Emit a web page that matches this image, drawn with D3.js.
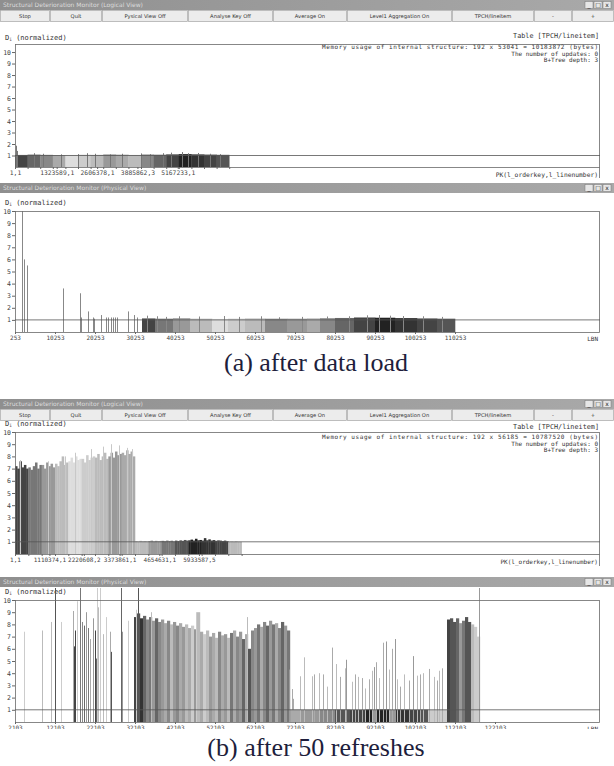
<!DOCTYPE html>
<html>
<head>
<meta charset="utf-8">
<script src="https://cdnjs.cloudflare.com/ajax/libs/d3/7.8.5/d3.min.js"></script>
<style>
  body { margin: 0; background: #fff; }
  svg { display: block; }
  .mono { font-family: "DejaVu Sans Mono", monospace; fill: #333; }
  .ui { font-family: "DejaVu Sans", sans-serif; }
  .axis text { font-family: "DejaVu Sans Mono", monospace; fill: #444; }
  .axis path { display: none; }
  .axis line { stroke: #666; }
</style>
</head>
<body>
<svg id="fig" width="614" height="766"></svg>
<script>
// ---- data ----
var buttons = ["Stop", "Quit", "Pysical View Off", "Analyse Key Off", "Average On",
               "Level1 Aggregation On", "TPCH/lineitem", "-", "+"];
var yTicks = [1, 2, 3, 4, 5, 6, 7, 8, 9, 10];

// (a) logical view after load, keys in millions
var keyTicksA = [0, 1.323589, 2.606378, 3.885862, 5.167233];
var keyLabelsA = ["1,1", "1323589,1", "2606378,1", "3885862,3", "5167233,1"];
var segEdgesA = [0, 0.4, 0.8, 1.2, 1.6, 2.0, 2.4, 2.8, 3.2, 3.6, 4.0, 4.4, 4.8, 5.2, 5.6, 6.0, 6.4, 6.8];
var segShadeA = "468adcb9ab8642345";
var segValA = [1.05, 1.08, 1.06, 1.04, 1.05, 1.07, 1.06, 1.1, 1.08, 1.05, 1.09, 1.07, 1.1, 1.12, 1.1, 1.08, 1.06];
var spikesA = [[0.02, 1.85], [0.06, 1.4], [0.6, 1.2], [0.9, 1.15], [1.45, 1.1], [2.0, 1.12], [2.3, 1.2],
               [2.55, 1.15], [3.0, 1.1], [3.4, 1.15], [4.0, 1.18], [4.3, 1.12], [4.7, 1.2], [4.95, 1.25],
               [5.3, 1.3], [5.5, 1.2], [5.8, 1.22], [6.2, 1.15], [6.5, 1.12]];

// (a) physical view after load, LBN
var lbnTicksB = [253, 10253, 20253, 30253, 40253, 50253, 60253, 70253, 80253, 90253, 100253, 110253];
var segEdgesB = [32003, 35253, 39753, 44003, 49503, 53503, 57753, 62753, 68253, 73253, 76503,
                 80253, 85003, 90253, 95253, 100753, 105753, 110253];
var segShadeB = "479bdcb89a8642345";
var segValB = [1.12, 1.1, 1.14, 1.1, 1.08, 1.1, 1.12, 1.1, 1.1, 1.12, 1.14, 1.16, 1.2, 1.18, 1.15, 1.12, 1.1];
var spikesB = [[2053, 10.3], [2428, 6.0], [3178, 5.5], [12178, 3.6], [16503, 3.2], [16753, 1.2],
               [18503, 1.7], [19678, 1.2], [20078, 1.1], [21678, 1.4], [23003, 1.2], [23578, 1.2],
               [24178, 1.2], [24678, 1.2], [25253, 1.2], [25828, 1.2], [28428, 1.7], [30003, 1.4],
               [30678, 1.2], [33253, 1.35], [35753, 1.3], [38003, 1.25], [41253, 1.3], [46253, 1.28],
               [52503, 1.32], [56253, 1.25], [61753, 1.3], [66253, 1.22], [72003, 1.25], [78253, 1.28],
               [83753, 1.3], [88253, 1.38], [91253, 1.4], [94003, 1.35], [97253, 1.32], [102253, 1.3],
               [107003, 1.25]];

// (b) logical view after 50 refreshes, keys in millions
var keyTicksC = [0, 1.110374, 2.220608, 3.373861, 4.654631, 5.933587];
var keyLabelsC = ["1,1", "1110374,1", "2220608,2", "3373861,1", "4654631,1", "5933587,5"];
var segEdgesC = [0, 0.43, 0.86, 1.29, 1.72, 2.15, 2.58, 3.01, 3.44, 3.87, 4.30, 4.73, 5.16, 5.59, 6.02, 6.45, 6.88, 7.31];
var segShadeC = "479bdcb9ab975234b";
var subValC = [
  [7.2, 7.0, 7.6, 7.1, 7.3, 7.0], [7.1, 6.9, 7.2, 7.5, 7.0, 7.3], [7.3, 7.0, 7.5, 7.2, 7.4, 7.1],
  [7.4, 7.2, 7.6, 8.0, 7.3, 7.5], [7.6, 7.9, 7.5, 8.0, 7.7, 7.8], [7.8, 7.5, 8.1, 7.7, 7.9, 8.0],
  [7.9, 8.2, 7.7, 8.0, 8.3, 7.8], [8.0, 8.3, 7.9, 8.4, 8.1, 8.2], [8.3, 8.1, 8.5, 8.2, 8.4, 8.0],
  [1.05, 1.02, 1.08, 1.04, 1.06, 1.03], [1.06, 1.1, 1.04, 1.08, 1.05, 1.07],
  [1.08, 1.05, 1.1, 1.06, 1.09, 1.04], [1.1, 1.06, 1.12, 1.08, 1.15, 1.1],
  [1.12, 1.18, 1.1, 1.25, 1.12, 1.15], [1.1, 1.3, 1.12, 1.2, 1.1, 1.14],
  [1.08, 1.12, 1.1, 1.06, 1.1, 1.05], [1.0, 1.02, 1.0, 1.03, 1.0, 1.0]];
var spikesC = [[0.15, 7.7], [1.05, 7.6], [1.6, 8.0], [1.95, 8.3], [2.45, 8.6], [2.85, 8.8],
               [3.1, 9.0], [3.35, 8.9], [3.6, 8.7], [3.78, 8.6]];

// (b) physical view after 50 refreshes, LBN
var lbnTicksD = [2103, 12103, 22103, 32103, 42103, 52103, 62103, 72103, 82103, 92103, 102103, 112103, 122103];
var denseStartD = 31853, denseStepD = 750;
var denseValD = [8.6, 8.9, 8.5, 8.7, 8.4, 8.6, 8.3, 8.5, 8.2, 8.4, 8.1, 8.3, 8.0, 8.2, 7.9, 8.1, 7.8,
                 8.0, 7.7, 7.9, 7.6, 9.0, 7.4, 7.2, 7.5, 7.0, 7.3, 6.9, 7.4, 7.1, 7.2, 6.9, 7.3, 7.5,
                 7.0, 7.4, 6.8, 7.2, 6.0, 7.5, 7.7, 8.0, 7.8, 8.2, 7.9, 8.3, 8.0, 8.1, 7.7, 8.2, 7.9, 7.5];
var denseShadeD = "4536879689a8b98a9bac9bacb9ab8a9b7a896a5897a8697a8697";
var lowEdgesD = [70853, 73353, 78353, 82103, 85853, 89603, 91353, 92353, 95853, 97103, 100853, 103353, 105353, 110103];
var lowShadeD = "a98542929345c";
var lowValD = [1.02, 1.0, 1.03, 1.02, 1.0, 1.02, 1.0, 1.03, 1.0, 1.02, 1.0, 1.02, 1.0];
var endStartD = 110103, endStepD = 750;
var endValD = [8.4, 8.5, 8.2, 8.5, 8.1, 8.3, 8.6, 8.2, 8.0, 7.8, 7.0];
var endShadeD = "45569755bcc";
var spikesD = [
  [4353, 7.4, "c"], [8853, 7.5, "b"], [11103, 8.2, "b"], [12103, 12, "5"], [13603, 8.2, "c"],
  [16603, 9.1, "a"], [16728, 6.2, "4"], [17103, 7.5, "4"], [17603, 9.9, "c"], [18353, 12, "7"],
  [18853, 8.2, "8"], [19353, 7.9, "6"], [19853, 9.0, "9"], [20353, 7.7, "7"], [20853, 6.8, "a"],
  [21603, 8.5, "9"], [22103, 7.5, "4"], [22353, 5.2, "6"], [22603, 12, "c"], [22853, 9.4, "b"],
  [23353, 12, "c"], [24103, 7.2, "b"], [24853, 8.6, "c"], [25853, 7.4, "a"], [25978, 5.75, "5"],
  [28603, 12, "6"], [28853, 7.4, "9"], [30353, 8.3, "c"], [32853, 12, "5"],
  [32353, 9.2, "c"], [36103, 9.0, "b"], [47353, 9.0, "c"], [60103, 8.6, "b"],
  [70686, 4.3, "9"], [71270, 2.7, "a"], [71686, 1.9, "a"], [73353, 3.75, "b"], [74353, 5.3, "b"],
  [76353, 3.75, "b"], [76936, 3.9, "a"], [78020, 4.0, "b"], [79103, 3.9, "a"], [80103, 2.9, "b"],
  [81353, 6.1, "a"], [82353, 4.75, "b"], [83436, 3.7, "a"], [84686, 4.4, "b"], [84936, 5.1, "9"],
  [86353, 3.3, "b"], [87186, 3.9, "a"], [87770, 3.7, "b"], [88853, 3.6, "a"], [89686, 2.75, "b"],
  [90520, 3.5, "a"], [91353, 4.2, "b"], [91770, 4.5, "9"], [92436, 4.9, "a"], [93020, 3.6, "b"],
  [94103, 6.5, "a"], [94770, 6.6, "9"], [95520, 4.3, "b"], [96353, 6.0, "a"], [97020, 6.8, "9"],
  [97603, 3.5, "b"], [98436, 2.9, "a"], [99270, 3.9, "b"], [100520, 3.4, "a"], [101520, 5.4, "9"],
  [102603, 3.8, "b"], [103270, 3.9, "a"], [104103, 4.0, "b"], [105520, 4.35, "a"], [106770, 3.7, "b"],
  [107603, 3.4, "a"], [108020, 4.2, "b"], [108853, 4.4, "a"], [118103, 12, "9"]];

// ---- drawing ----
var svg = d3.select("#fig");
var defs = svg.append("defs");
var grad = defs.append("linearGradient").attr("id", "tbar");
grad.append("stop").attr("offset", "0%").attr("stop-color", "#8f8f8f");
grad.append("stop").attr("offset", "100%").attr("stop-color", "#a9a9a9");

function grey(c) { return "#" + c + c + c; }

function drawWindow(top, title, withToolbar) {
  svg.append("rect").attr("x", 0).attr("y", top).attr("width", 614).attr("height", 10)
    .attr("fill", "url(#tbar)");
  svg.append("text").attr("class", "ui").attr("x", 3).attr("y", top + 7.2)
    .attr("font-size", 6).attr("fill", "#dcdcdc").text(title);
  ["_", "\u25a1", "x"].forEach(function (s, i) {
    var bx = 585 + i * 9;
    svg.append("rect").attr("x", bx).attr("y", top + 1.5).attr("width", 8).attr("height", 7)
      .attr("fill", "#e6e6e6").attr("stroke", "#777").attr("stroke-width", 0.5);
    svg.append("text").attr("class", "ui").attr("x", bx + 4).attr("y", top + 7.3)
      .attr("text-anchor", "middle").attr("font-size", 6).attr("fill", "#222").text(s);
  });
  if (!withToolbar) return;
  var edges = [0, 50, 102, 188, 273, 347, 452, 534, 572, 614];
  buttons.forEach(function (b, i) {
    svg.append("rect").attr("x", edges[i] + 0.5).attr("y", top + 10.5)
      .attr("width", edges[i + 1] - edges[i] - 1).attr("height", 11)
      .attr("fill", "#ececec").attr("stroke", "#a5a5a5").attr("stroke-width", 0.7);
    svg.append("text").attr("class", "ui").attr("x", (edges[i] + edges[i + 1]) / 2).attr("y", top + 18)
      .attr("text-anchor", "middle").attr("font-size", 5.2).attr("fill", "#333").text(b);
  });
}

function dLabel(yb) {
  var t = svg.append("text").attr("class", "mono").attr("x", 5).attr("y", yb).attr("font-size", 7);
  t.append("tspan").text("D");
  t.append("tspan").attr("font-size", 4.5).attr("dy", 1.2).text("i");
  t.append("tspan").attr("dy", -1.2).text(" (normalized)");
}

function drawPlot(p) {
  var x = d3.scaleLinear().domain(p.xDomain).range([15, 600]);
  var y = d3.scaleLinear().domain([0, p.yMax]).range([p.axisY, p.frameTop]);
  var clipId = "clip" + p.id;
  defs.append("clipPath").attr("id", clipId).append("rect")
    .attr("x", 15).attr("y", p.clipTop).attr("width", 585).attr("height", p.axisY - p.clipTop);
  var bars = svg.append("g").attr("clip-path", "url(#" + clipId + ")");
  return { x: x, y: y, bars: bars, p: p };
}

function finishPlot(P) {
  var p = P.p, x = P.x, y = P.y;
  // frame
  svg.append("rect").attr("x", 15.5).attr("y", p.frameTop + 0.5).attr("width", 584)
    .attr("height", p.axisY - p.frameTop).attr("fill", "none").attr("stroke", "#6a6a6a").attr("stroke-width", 0.8);
  if (p.frameBottom) {
    svg.append("line").attr("x1", 599.5).attr("x2", 599.5).attr("y1", p.axisY).attr("y2", p.frameBottom)
      .attr("stroke", "#6a6a6a").attr("stroke-width", 0.8);
  }
  // reference line at D = 1
  svg.append("line").attr("x1", 15).attr("x2", 600).attr("y1", y(1)).attr("y2", y(1))
    .attr("stroke", "#555").attr("stroke-width", 0.8);
  // y axis
  svg.append("g").attr("class", "axis").attr("transform", "translate(15,0)")
    .call(d3.axisLeft(y).tickValues(yTicks.filter(function (v) { return v <= p.yMax; }))
      .tickSize(3).tickPadding(1))
    .selectAll("text").attr("font-size", 6.5);
  // x axis
  var xa = svg.append("g").attr("class", "axis").attr("transform", "translate(0," + p.axisY + ")")
    .call(d3.axisBottom(x).tickValues(p.ticks).tickSize(2).tickPadding(2)
      .tickFormat(function (d, i) { return p.labels ? p.labels[i] : d; }));
  xa.selectAll("text").attr("font-size", p.tickFont);
  if (p.minor) {
    svg.append("g").attr("class", "axis").attr("transform", "translate(0," + p.axisY + ")")
      .call(d3.axisBottom(x).tickValues(p.minor).tickSize(2).tickFormat(""));
  }
  svg.append("text").attr("class", "mono").attr("x", 598).attr("y", p.axisY + p.nameDy)
    .attr("text-anchor", "end").attr("font-size", p.tickFont).attr("fill", "#444").text(p.xName);
}

function infoText(yTable, yInfo, mem) {
  svg.append("text").attr("class", "mono").attr("x", 599).attr("y", yTable).attr("text-anchor", "end")
    .attr("font-size", 6.8).text("Table [TPCH/lineitem]");
  [mem, "The number of updates: 0", "B+Tree depth: 3"].forEach(function (s, i) {
    var t = svg.append("text").attr("class", "mono").attr("x", 598).attr("y", yInfo + i * 6.6)
      .attr("text-anchor", "end").attr("font-size", 6).text(s);
    if (i === 0) t.attr("textLength", 276).attr("lengthAdjust", "spacing");
  });
}

function thinLines(P, data, colorFn) {
  P.bars.selectAll(null).data(data).enter().append("line")
    .attr("x1", function (d) { return Math.round(P.x(d[0])) + 0.5; })
    .attr("x2", function (d) { return Math.round(P.x(d[0])) + 0.5; })
    .attr("y1", P.y(0)).attr("y2", function (d) { return P.y(d[1]); })
    .attr("stroke", colorFn).attr("stroke-width", 1);
}

function caption(yb, s) {
  svg.append("text").attr("x", 316).attr("y", yb).attr("text-anchor", "middle")
    .attr("font-family", "Liberation Serif, serif").attr("font-size", 26).attr("fill", "#1e1e3c")
    .text(s);
}

// ===== window 1: logical view, after data load =====
drawWindow(0, "Structural Deterioration Monitor (Logical View)", true);
dLabel(40);
var A = drawPlot({ id: "A", xDomain: [0, 18.57], yMax: 10.7, frameTop: 44, axisY: 167, clipTop: 44,
  ticks: keyTicksA, labels: keyLabelsA, tickFont: 6.3, xName: "PK(l_orderkey,l_linenumber)", nameDy: 10,
  frameBottom: 178, minor: segEdgesA });
A.bars.selectAll(null).data(segValA).enter().append("rect")
  .attr("x", function (d, i) { return A.x(segEdgesA[i]); })
  .attr("width", function (d, i) { return A.x(segEdgesA[i + 1]) - A.x(segEdgesA[i]) + 0.3; })
  .attr("y", function (d) { return A.y(d); })
  .attr("height", function (d) { return A.y(0) - A.y(d); })
  .attr("fill", function (d, i) { return grey(segShadeA[i]); });
thinLines(A, spikesA, "#777");
finishPlot(A);
infoText(38, 49, "Memory usage of internal structure: 192 x 53041 = 10183872 (bytes)");

// ===== window 2: physical view, after data load =====
drawWindow(183, "Structural Deterioration Monitor (Physical View)", false);
dLabel(205);
var B = drawPlot({ id: "B", xDomain: [253, 146503], yMax: 10, frameTop: 211, axisY: 332, clipTop: 211,
  ticks: lbnTicksB, tickFont: 6, xName: "LBN", nameDy: 9 });
B.bars.selectAll(null).data(segValB).enter().append("rect")
  .attr("x", function (d, i) { return B.x(segEdgesB[i]); })
  .attr("width", function (d, i) { return B.x(segEdgesB[i + 1]) - B.x(segEdgesB[i]) + 0.3; })
  .attr("y", function (d) { return B.y(d); })
  .attr("height", function (d) { return B.y(0) - B.y(d); })
  .attr("fill", function (d, i) { return grey(segShadeB[i]); });
thinLines(B, spikesB, "#888");
finishPlot(B);

caption(371, "(a) after data load");

// ===== window 3: logical view, after 50 refreshes =====
drawWindow(399, "Structural Deterioration Monitor (Logical View)", true);
dLabel(426);
var C = drawPlot({ id: "C", xDomain: [0, 18.87], yMax: 10, frameTop: 432, axisY: 554, clipTop: 432,
  ticks: keyTicksC, labels: keyLabelsC, tickFont: 6, xName: "PK(l_orderkey,l_linenumber)", nameDy: 10,
  frameBottom: 566, minor: segEdgesC });
var subC = [];
subValC.forEach(function (vals, s) {
  var w = (segEdgesC[s + 1] - segEdgesC[s]) / vals.length;
  vals.forEach(function (v, j) {
    subC.push({ k0: segEdgesC[s] + j * w, k1: segEdgesC[s] + (j + 1) * w, v: v, c: segShadeC[s] });
  });
});
C.bars.selectAll(null).data(subC).enter().append("rect")
  .attr("x", function (d) { return C.x(d.k0); })
  .attr("width", function (d) { return C.x(d.k1) - C.x(d.k0) + 0.3; })
  .attr("y", function (d) { return C.y(d.v); })
  .attr("height", function (d) { return C.y(0) - C.y(d.v); })
  .attr("fill", function (d) { return grey(d.c); });
thinLines(C, spikesC, "#c8c8c8");
finishPlot(C);
infoText(429, 439, "Memory usage of internal structure: 192 x 56185 = 10787520 (bytes)");

// ===== window 4: physical view, after 50 refreshes =====
drawWindow(577, "Structural Deterioration Monitor (Physical View)", false);
dLabel(594);
var D = drawPlot({ id: "D", xDomain: [2103, 148353], yMax: 10, frameTop: 600, axisY: 722, clipTop: 588,
  ticks: lbnTicksD, tickFont: 6, xName: "LBN", nameDy: 9 });
// low blocks
D.bars.selectAll(null).data(lowValD).enter().append("rect")
  .attr("x", function (d, i) { return D.x(lowEdgesD[i]); })
  .attr("width", function (d, i) { return D.x(lowEdgesD[i + 1]) - D.x(lowEdgesD[i]) + 0.3; })
  .attr("y", function (d) { return D.y(d); })
  .attr("height", function (d) { return D.y(0) - D.y(d); })
  .attr("fill", function (d, i) { return grey(lowShadeD[i]); });
// dense region and the block at the end
function runBars(vals, shades, start, step) {
  D.bars.selectAll(null).data(vals).enter().append("rect")
    .attr("x", function (d, i) { return D.x(start + i * step); })
    .attr("width", function (d, i) { return D.x(start + (i + 1) * step) - D.x(start + i * step) + 0.2; })
    .attr("y", function (d) { return D.y(d); })
    .attr("height", function (d) { return D.y(0) - D.y(d); })
    .attr("fill", function (d, i) { return grey(shades[i]); });
}
runBars(denseValD, denseShadeD, denseStartD, denseStepD);
runBars(endValD, endShadeD, endStartD, endStepD);
thinLines(D, spikesD, function (d) { return grey(d[2]); });
finishPlot(D);
// labels below the last axis are cut by the window edge
svg.append("rect").attr("x", 0).attr("y", 729).attr("width", 614).attr("height", 6).attr("fill", "#fff");

caption(756, "(b) after 50 refreshes");
</script>
</body>
</html>
